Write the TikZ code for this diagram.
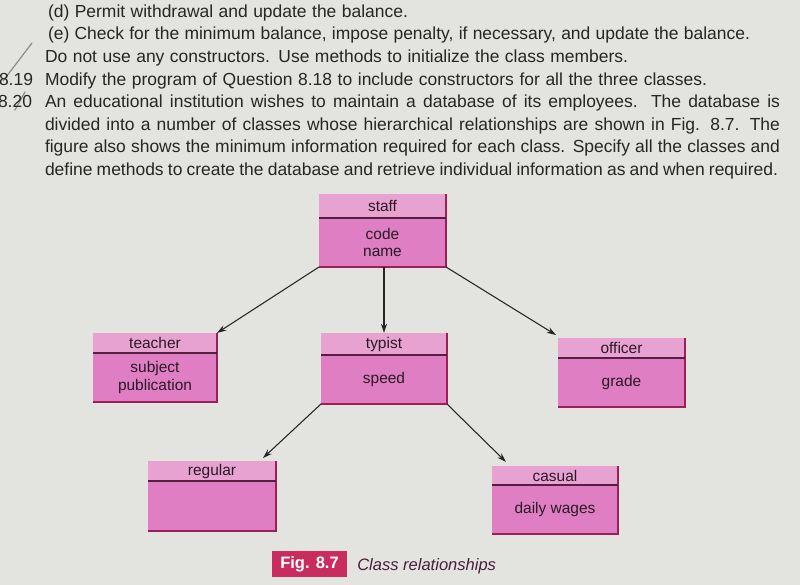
\documentclass[tikz,border=0pt]{standalone}
\usepackage{fontspec}
\setmainfont{Liberation Sans}
\usetikzlibrary{arrows.meta,fit,calc}

\definecolor{paper}{HTML}{E3E3E0}
\definecolor{ink}{HTML}{262626}
\definecolor{headpink}{HTML}{E8A2D2}
\definecolor{bodypink}{HTML}{DF7EC3}
\definecolor{rimred}{HTML}{9E1F58}
\definecolor{splitdark}{HTML}{552040}
\definecolor{boxink}{HTML}{2A1A24}
\definecolor{tagred}{HTML}{C92C5E}
\definecolor{capink}{HTML}{45203C}

\tikzset{
  pageline/.style={anchor=base west, inner sep=0, outer sep=0, text=ink,
                   font=\fontsize{13.1pt}{16pt}\selectfont},
  rimline/.style={draw=rimred, line width=1.1pt},
  splitline/.style={draw=splitdark, line width=0.9pt},
  boxframe/.style={inner sep=0, outer sep=0},
  classtitle/.style={inner sep=0, text=boxink, font=\fontsize{11.6pt}{13.2pt}\selectfont},
  classbody/.style={inner sep=0, text=boxink, align=center,
                    font=\fontsize{11.6pt}{13.2pt}\selectfont},
  link/.style={draw=ink, line width=0.8pt, -{Stealth[length=7pt,width=4.5pt]}},
  pencil/.style={draw=black!45, line width=0.9pt, line cap=round},
  figtag/.style={fill=tagred, text=white, inner sep=0, minimum width=56.25pt,
                 minimum height=19.5pt, font=\fontsize{12.4pt}{14pt}\selectfont\bfseries},
}

% UML-style class box: name, left, top, right, split, bottom, title, members
\newcommand\classbox[8]{%
  \fill[headpink] (#2,#3) rectangle (#4,#5);
  \fill[bodypink] (#2,#5) rectangle (#4,#6);
  \draw[rimline] (#4,#3) -- (#4,#6) -- (#2,#6);
  \draw[splitline] (#2,#5) -- (#4,#5);
  \node[boxframe, fit={(#2,#3) (#4,#6)}] (#1) {};
  \node[classtitle] (#1-title) at ($(#2,#3)!.5!(#4,#5)$) {#7};
  \node[classbody] (#1-body) at ($(#2,#5)!.5!(#4,#6)$) {#8};
}

\begin{document}
\begin{tikzpicture}[x=0.75pt, y=-0.75pt]
  % page
  \fill[paper] (0,0) rectangle (800,585);
  \useasboundingbox (0,0) rectangle (800,585);

  % margin pencil marks
  \draw[pencil] (32,43) -- (3,81);
  \draw[pencil] (25,92) -- (15,110);

  % exercise text
  \node[pageline] (l1) at (48,17.5) {\hbox to 270pt{(d) Permit withdrawal and update the balance.}};
  \node[pageline] (l2) at (48,40) {\hbox to 526.5pt{(e) Check for the minimum balance, impose penalty, if necessary, and update the balance.}};
  \node[pageline] (l3) at (45,62.5) {\hbox to 437.25pt{Do not use any constructors. Use methods to initialize the class members.}};
  \node[pageline] (n19) at (-1,85) {8.19};
  \node[pageline] (l4) at (45,85) {\hbox to 496.5pt{Modify the program of Question 8.18 to include constructors for all the three classes.}};
  \node[pageline] (n20) at (-2,107.5) {8.20};
  \node[pageline] (l5) at (45,107.5) {\hbox to 551.25pt{An educational institution wishes to maintain a database of its employees. The database is}};
  \node[pageline] (l6) at (45,130) {\hbox to 551.25pt{divided into a number of classes whose hierarchical relationships are shown in Fig. 8.7. The}};
  \node[pageline] (l7) at (45,152.5) {\hbox to 551.25pt{figure also shows the minimum information required for each class. Specify all the classes and}};
  \node[pageline] (l8) at (45,175) {\hbox to 549.75pt{define methods to create the database and retrieve individual information as and when required.}};

  % class hierarchy
  \classbox{staff}{319}{194}{446}{218}{267}{staff}{code\\name}
  \classbox{teacher}{93}{333}{217}{353}{402}{teacher}{subject\\publication}
  \classbox{typist}{321}{333}{447}{355}{404}{typist}{speed}
  \classbox{officer}{558}{338}{685}{358}{407}{officer}{grade}
  \classbox{regular}{148}{461}{276}{481}{531}{regular}{}
  \classbox{casual}{492}{466}{618}{485}{534}{casual}{daily wages}

  \draw[link] (staff.south west) -- (teacher.north east);
  \draw[link] (typist.north |- staff.south) -- (typist.north);
  \draw[link] (staff.south east) -- ($(officer.north west)+(-2,-3)$);
  \draw[link] (typist.south west) -- ($(regular.north east)+(-13,-3)$);
  \draw[link] (typist.south east) -- ($(casual.north west)+(14,-4)$);

  % caption
  \node[figtag] (tag) at (309.5,564) {Fig. 8.7};
  \node[anchor=base west, inner sep=0, text=capink,
        font=\fontsize{12.4pt}{14pt}\selectfont\itshape] (caption) at (357,570) {Class relationships};
\end{tikzpicture}
\end{document}
